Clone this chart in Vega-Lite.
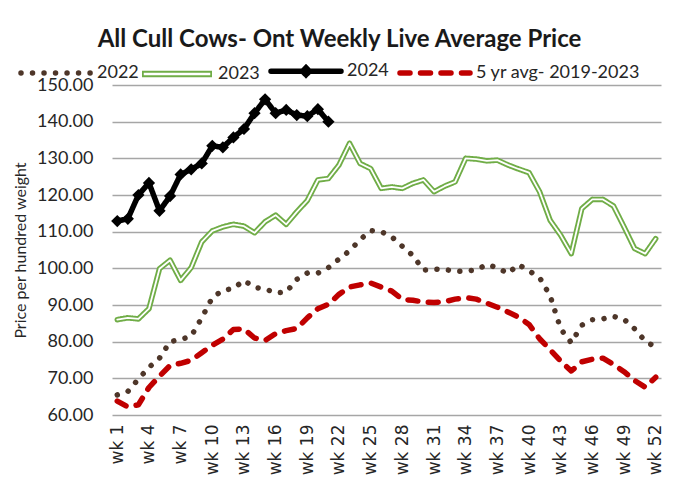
{
  "$schema": "https://vega.github.io/schema/vega-lite/v6.json",
  "width": 549,
  "height": 330,
  "autosize": {"type": "none"},
  "padding": {"left": 112, "top": 85, "right": 23, "bottom": 74},
  "background": "white",
  "title": {
    "text": "All Cull Cows- Ont Weekly Live Average Price",
    "font": "Lato",
    "fontSize": 24,
    "fontWeight": "bold",
    "color": "#1a1a1a",
    "anchor": "middle",
    "dx": -47,
    "offset": -19
  },
  "config": {
    "view": {"stroke": null},
    "axis": {"labelFont": "Lato", "titleFont": "Lato"}
  },
  "datasets": {
    "d": [
      {"s":"2022","w":1,"p":65.5},{"s":"2022","w":2,"p":66.4},{"s":"2022","w":3,"p":69.8},{"s":"2022","w":4,"p":73.0},{"s":"2022","w":5,"p":75.5},{"s":"2022","w":6,"p":80.0},{"s":"2022","w":7,"p":80.6},{"s":"2022","w":8,"p":81.5},{"s":"2022","w":9,"p":86.5},{"s":"2022","w":10,"p":92.0},
      {"s":"2022","w":11,"p":94.0},{"s":"2022","w":12,"p":94.5},{"s":"2022","w":13,"p":96.7},{"s":"2022","w":14,"p":94.8},{"s":"2022","w":15,"p":94.4},{"s":"2022","w":16,"p":93.3},{"s":"2022","w":17,"p":93.5},{"s":"2022","w":18,"p":97.0},{"s":"2022","w":19,"p":98.7},{"s":"2022","w":20,"p":98.7},
      {"s":"2022","w":21,"p":100.2},{"s":"2022","w":22,"p":102.5},{"s":"2022","w":23,"p":104.8},{"s":"2022","w":24,"p":107.8},{"s":"2022","w":25,"p":110.3},{"s":"2022","w":26,"p":110.0},{"s":"2022","w":27,"p":108.6},{"s":"2022","w":28,"p":106.0},{"s":"2022","w":29,"p":103.5},{"s":"2022","w":30,"p":99.5},
      {"s":"2022","w":31,"p":99.8},{"s":"2022","w":32,"p":99.7},{"s":"2022","w":33,"p":99.2},{"s":"2022","w":34,"p":99.2},{"s":"2022","w":35,"p":99.6},{"s":"2022","w":36,"p":101.0},{"s":"2022","w":37,"p":100.2},{"s":"2022","w":38,"p":98.6},{"s":"2022","w":39,"p":101.0},{"s":"2022","w":40,"p":99.3},
      {"s":"2022","w":41,"p":97.5},{"s":"2022","w":42,"p":92.5},{"s":"2022","w":43,"p":83.5},{"s":"2022","w":44,"p":79.7},{"s":"2022","w":45,"p":84.5},{"s":"2022","w":46,"p":86.0},{"s":"2022","w":47,"p":86.2},{"s":"2022","w":48,"p":86.9},{"s":"2022","w":49,"p":86.1},{"s":"2022","w":50,"p":83.5},
      {"s":"2022","w":51,"p":80.2},{"s":"2022","w":52,"p":78.5},
      {"s":"2023","w":1,"p":86.0},{"s":"2023","w":2,"p":86.5},{"s":"2023","w":3,"p":86.2},{"s":"2023","w":4,"p":89.0},{"s":"2023","w":5,"p":99.9},{"s":"2023","w":6,"p":102.2},{"s":"2023","w":7,"p":96.7},{"s":"2023","w":8,"p":100.2},{"s":"2023","w":9,"p":107.2},{"s":"2023","w":10,"p":110.2},
      {"s":"2023","w":11,"p":111.3},{"s":"2023","w":12,"p":112.0},{"s":"2023","w":13,"p":111.5},{"s":"2023","w":14,"p":109.7},{"s":"2023","w":15,"p":112.7},{"s":"2023","w":16,"p":114.5},{"s":"2023","w":17,"p":112.0},{"s":"2023","w":18,"p":115.4},{"s":"2023","w":19,"p":118.5},{"s":"2023","w":20,"p":124.1},
      {"s":"2023","w":21,"p":124.5},{"s":"2023","w":22,"p":128.2},{"s":"2023","w":23,"p":134.1},{"s":"2023","w":24,"p":128.6},{"s":"2023","w":25,"p":127.2},{"s":"2023","w":26,"p":121.8},{"s":"2023","w":27,"p":122.2},{"s":"2023","w":28,"p":121.8},{"s":"2023","w":29,"p":123.2},{"s":"2023","w":30,"p":124.1},
      {"s":"2023","w":31,"p":120.9},{"s":"2023","w":32,"p":122.4},{"s":"2023","w":33,"p":123.6},{"s":"2023","w":34,"p":130.0},{"s":"2023","w":35,"p":129.8},{"s":"2023","w":36,"p":129.3},{"s":"2023","w":37,"p":129.5},{"s":"2023","w":38,"p":128.2},{"s":"2023","w":39,"p":127.1},{"s":"2023","w":40,"p":126.1},
      {"s":"2023","w":41,"p":120.9},{"s":"2023","w":42,"p":113.1},{"s":"2023","w":43,"p":109.0},{"s":"2023","w":44,"p":104.0},{"s":"2023","w":45,"p":116.3},{"s":"2023","w":46,"p":118.8},{"s":"2023","w":47,"p":118.8},{"s":"2023","w":48,"p":117.0},{"s":"2023","w":49,"p":111.3},{"s":"2023","w":50,"p":105.4},
      {"s":"2023","w":51,"p":104.0},{"s":"2023","w":52,"p":108.1},
      {"s":"2024","w":1,"p":112.9},{"s":"2024","w":2,"p":113.5},{"s":"2024","w":3,"p":120.0},{"s":"2024","w":4,"p":123.3},{"s":"2024","w":5,"p":115.7},{"s":"2024","w":6,"p":119.7},{"s":"2024","w":7,"p":125.6},{"s":"2024","w":8,"p":127.0},{"s":"2024","w":9,"p":128.6},{"s":"2024","w":10,"p":133.4},
      {"s":"2024","w":11,"p":133.0},{"s":"2024","w":12,"p":135.7},{"s":"2024","w":13,"p":138.0},{"s":"2024","w":14,"p":142.3},{"s":"2024","w":15,"p":146.1},{"s":"2024","w":16,"p":142.3},{"s":"2024","w":17,"p":143.2},{"s":"2024","w":18,"p":141.8},{"s":"2024","w":19,"p":141.5},{"s":"2024","w":20,"p":143.4},
      {"s":"2024","w":21,"p":140.0},
      {"s":"5 yr avg- 2019-2023","w":1,"p":63.8},{"s":"5 yr avg- 2019-2023","w":2,"p":62.2},{"s":"5 yr avg- 2019-2023","w":3,"p":62.8},{"s":"5 yr avg- 2019-2023","w":4,"p":67.5},{"s":"5 yr avg- 2019-2023","w":5,"p":70.6},{"s":"5 yr avg- 2019-2023","w":6,"p":73.5},{"s":"5 yr avg- 2019-2023","w":7,"p":74.1},{"s":"5 yr avg- 2019-2023","w":8,"p":74.9},{"s":"5 yr avg- 2019-2023","w":9,"p":77.0},{"s":"5 yr avg- 2019-2023","w":10,"p":79.0},
      {"s":"5 yr avg- 2019-2023","w":11,"p":80.7},{"s":"5 yr avg- 2019-2023","w":12,"p":83.3},{"s":"5 yr avg- 2019-2023","w":13,"p":83.5},{"s":"5 yr avg- 2019-2023","w":14,"p":81.0},{"s":"5 yr avg- 2019-2023","w":15,"p":80.3},{"s":"5 yr avg- 2019-2023","w":16,"p":82.2},{"s":"5 yr avg- 2019-2023","w":17,"p":83.0},{"s":"5 yr avg- 2019-2023","w":18,"p":83.6},{"s":"5 yr avg- 2019-2023","w":19,"p":86.5},{"s":"5 yr avg- 2019-2023","w":20,"p":89.0},
      {"s":"5 yr avg- 2019-2023","w":21,"p":90.2},{"s":"5 yr avg- 2019-2023","w":22,"p":92.9},{"s":"5 yr avg- 2019-2023","w":23,"p":94.9},{"s":"5 yr avg- 2019-2023","w":24,"p":95.5},{"s":"5 yr avg- 2019-2023","w":25,"p":96.0},{"s":"5 yr avg- 2019-2023","w":26,"p":94.9},{"s":"5 yr avg- 2019-2023","w":27,"p":93.8},{"s":"5 yr avg- 2019-2023","w":28,"p":91.5},{"s":"5 yr avg- 2019-2023","w":29,"p":91.3},{"s":"5 yr avg- 2019-2023","w":30,"p":90.8},
      {"s":"5 yr avg- 2019-2023","w":31,"p":90.7},{"s":"5 yr avg- 2019-2023","w":32,"p":90.9},{"s":"5 yr avg- 2019-2023","w":33,"p":91.6},{"s":"5 yr avg- 2019-2023","w":34,"p":92.0},{"s":"5 yr avg- 2019-2023","w":35,"p":91.6},{"s":"5 yr avg- 2019-2023","w":36,"p":90.5},{"s":"5 yr avg- 2019-2023","w":37,"p":89.4},{"s":"5 yr avg- 2019-2023","w":38,"p":88.1},{"s":"5 yr avg- 2019-2023","w":39,"p":86.7},{"s":"5 yr avg- 2019-2023","w":40,"p":84.7},
      {"s":"5 yr avg- 2019-2023","w":41,"p":80.8},{"s":"5 yr avg- 2019-2023","w":42,"p":77.8},{"s":"5 yr avg- 2019-2023","w":43,"p":74.7},{"s":"5 yr avg- 2019-2023","w":44,"p":72.0},{"s":"5 yr avg- 2019-2023","w":45,"p":74.5},{"s":"5 yr avg- 2019-2023","w":46,"p":75.2},{"s":"5 yr avg- 2019-2023","w":47,"p":75.5},{"s":"5 yr avg- 2019-2023","w":48,"p":73.8},{"s":"5 yr avg- 2019-2023","w":49,"p":71.8},{"s":"5 yr avg- 2019-2023","w":50,"p":69.4},
      {"s":"5 yr avg- 2019-2023","w":51,"p":67.6},{"s":"5 yr avg- 2019-2023","w":52,"p":70.3}
    ]
  },
  "data": {"name": "d"},
  "encoding": {
    "x": {
      "field": "w", "type": "quantitative",
      "scale": {"domain": [0.5, 52.5], "nice": false, "zero": false},
      "axis": {
        "title": null,
        "values": [1,4,7,10,13,16,19,22,25,28,31,34,37,40,43,46,49,52],
        "labelExpr": "'wk ' + datum.value",
        "labelAngle": -90,
        "labelFont": "DejaVu Sans",
        "labelFontSize": 17,
        "labelColor": "#262626",
        "labelPadding": 9,
        "grid": false, "ticks": false,
        "domain": false,
        "labelFlush": false,
        "labelOverlap": false
      }
    },
    "y": {
      "field": "p", "type": "quantitative",
      "scale": {"domain": [60, 150], "nice": false, "zero": false},
      "axis": {
        "title": "Price per hundred weight",
        "titleFont": "Lato",
        "titleFontSize": 16,
        "titleFontWeight": "normal",
        "titleColor": "#262626",
        "titlePadding": 8,
        "values": [60,70,80,90,100,110,120,130,140,150],
        "format": ".2f",
        "labelFont": "Lato",
        "labelFontSize": 18,
        "labelColor": "#262626",
        "labelPadding": 19,
        "grid": true,
        "gridColor": "#a6a6a6",
        "gridWidth": 1.5,
        "ticks": false,
        "domain": false
      }
    }
  },
  "layer": [
    {
      "mark": {"type": "line", "strokeCap": "round", "strokeJoin": "round"},
      "encoding": {
        "color": {
          "field": "s", "type": "nominal",
          "scale": {
            "domain": ["2022", "2023", "2024", "5 yr avg- 2019-2023"],
            "range": ["#4e3629", "#70ad47", "#000000", "#c00000"]
          },
          "legend": {
            "title": null,
            "orient": "none",
            "direction": "horizontal",
            "legendX": -94,
            "legendY": -52,
            "symbolType": "stroke",
            "symbolSize": 4900,
            "symbolStrokeWidth": 5,
            "labelFont": "Lato",
            "labelFontSize": 18,
            "labelColor": "#262626",
            "labelOffset": 3,
            "labelLimit": 300,
            "columnPadding": 0,
            "padding": 0,
            "encode": {
              "symbols": {
                "update": {
                  "shape": {"signal": "datum.value === '2023' ? 'M-1,-0.09H1V0.09H-1ZM-0.95,-0.035V0.035H0.95V-0.035Z' : datum.value === '2024' ? 'M-1,0H1M-0.1,0L0,-0.1L0.1,0L0,0.1Z' : 'stroke'"},
                  "fill": {"signal": "datum.value === '2024' ? '#000000' : datum.value === '2023' ? '#70ad47' : 'transparent'"},
                  "strokeOpacity": {"signal": "datum.value === '2023' ? 0 : 1"},
                  "strokeDash": {"signal": "datum.value === '2022' ? [0.01, 11.5] : datum.value === '5 yr avg- 2019-2023' ? [10, 10.5] : datum.value === '2023' ? [0, 10000] : [1, 0]"},
                  "strokeCap": {"signal": "datum.value === '2023' ? 'butt' : 'round'"},
                  "opacity": {"value": 1}
                }
              }
            }
          }
        },
        "strokeDash": {
          "field": "s", "type": "nominal",
          "scale": {
            "domain": ["2022", "2023", "2024", "5 yr avg- 2019-2023"],
            "range": [[0.01, 11.5], [1, 0], [1, 0], [10, 10.5]]
          },
          "legend": null
        },
        "strokeWidth": {
          "field": "s", "type": "nominal",
          "scale": {
            "domain": ["2022", "2023", "2024", "5 yr avg- 2019-2023"],
            "range": [5.5, 5.5, 4, 5]
          },
          "legend": null
        }
      }
    },
    {
      "transform": [{"filter": "datum.s === '2023'"}],
      "mark": {"type": "line", "color": "#ffffff", "strokeWidth": 1.8, "strokeJoin": "round", "strokeCap": "round"},
      "encoding": {}
    },
    {
      "transform": [{"filter": "datum.s === '2024'"}],
      "mark": {"type": "point", "shape": "diamond", "filled": true, "color": "#000000", "size": 150, "opacity": 1},
      "encoding": {}
    }
  ]
}
